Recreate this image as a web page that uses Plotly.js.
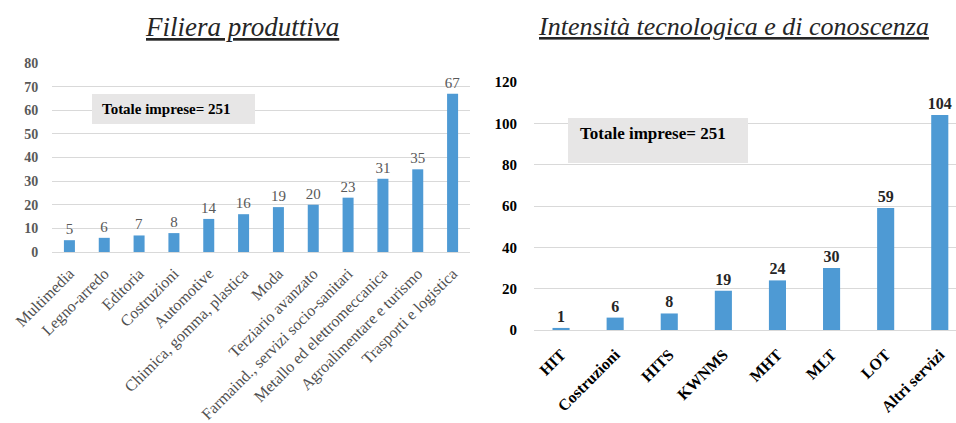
<!DOCTYPE html>
<html>
<head>
<meta charset="utf-8">
<script src="https://cdn.plot.ly/plotly-3.0.1.min.js"></script>
<style>html,body{margin:0;padding:0;background:#fff;}#chart{width:956px;height:423px;}</style>
</head>
<body>
<div id="chart"></div>
<script>
const filieraCategories = ["Multimedia","Legno-arredo","Editoria","Costruzioni","Automotive","Chimica, gomma, plastica","Moda","Terziario avanzato","Farmaind., servizi socio-sanitari","Metallo ed elettromeccanica","Agroalimentare e turismo","Trasporti e logistica"];
const filieraValues = [5,6,7,8,14,16,19,20,23,31,35,67];
const intensitaCategories = ["HIT","Costruzioni","HITS","KWNMS","MHT","MLT","LOT","Altri servizi"];
const intensitaValues = [1,6,8,19,24,30,59,104];
const leftTicks = [0,10,20,30,40,50,60,70,80];
const rightTicks = [0,20,40,60,80,100,120];
const leftTitle = "Filiera produttiva";
const rightTitle = "Intensità tecnologica e di conoscenza";
const totalLabel = "Totale imprese= 251";

const serif = "Liberation Serif";
const barColor = "#4E9AD4";
const gray = "#595959";

const traces = [
  {
    type: "bar", x: filieraCategories, y: filieraValues, xaxis: "x", yaxis: "y",
    marker: {color: barColor},
    text: filieraValues.map(String), textposition: "outside", cliponaxis: false,
    constraintext: "none",
    outsidetextfont: {family: serif, size: 15, color: gray},
    hoverinfo: "x+y"
  },
  {
    type: "bar", x: intensitaCategories, y: intensitaValues, xaxis: "x2", yaxis: "y2",
    marker: {color: barColor},
    text: intensitaValues.map(String), textposition: "outside", cliponaxis: false,
    constraintext: "none",
    outsidetextfont: {family: serif, size: 16, color: "#262626", weight: "bold"},
    hoverinfo: "x+y"
  }
];

const layout = {
  width: 956, height: 423,
  margin: {l: 0, r: 0, t: 0, b: 0},
  paper_bgcolor: "#ffffff", plot_bgcolor: "#ffffff",
  showlegend: false,
  bargap: 0.684,
  font: {family: serif},
  xaxis: {
    domain: [52/956, 470/956], anchor: "y",
    tickangle: -45, automargin: false,
    tickfont: {family: serif, size: 16, color: "#505050"},
    showgrid: false, showline: true, linecolor: "#d9d9d9", linewidth: 1,
    ticks: "outside", ticklen: 5, tickcolor: "rgba(0,0,0,0)",
    fixedrange: true
  },
  yaxis: {
    domain: [1 - 252/423, 1 - 63/423], anchor: "x",
    range: [0, 80], tickvals: leftTicks, automargin: false,
    tickfont: {family: serif, size: 14, color: gray, weight: "bold"},
    showgrid: true, gridcolor: "#d9d9d9", gridwidth: 1, zeroline: false,
    ticks: "outside", ticklen: 10, tickcolor: "rgba(0,0,0,0)",
    fixedrange: true
  },
  xaxis2: {
    domain: [534/956, 1], anchor: "y2",
    range: [-0.5, 7.3], automargin: false,
    tickangle: -45,
    tickfont: {family: serif, size: 16, color: "#000000", weight: "bold"},
    showgrid: false, showline: true, linecolor: "#d9d9d9", linewidth: 1,
    ticks: "outside", ticklen: 8, tickcolor: "rgba(0,0,0,0)",
    fixedrange: true
  },
  yaxis2: {
    domain: [1 - 330/423, 1 - 82/423], anchor: "x2",
    range: [0, 120], tickvals: rightTicks, automargin: false,
    tickfont: {family: serif, size: 15, color: "#000000", weight: "bold"},
    showgrid: true, gridcolor: "#d9d9d9", gridwidth: 1, zeroline: false,
    ticks: "outside", ticklen: 13, tickcolor: "rgba(0,0,0,0)",
    fixedrange: true
  },
  shapes: [
    {type: "rect", xref: "paper", yref: "paper", x0: 92/956, x1: 255/956, y0: 1 - 124/423, y1: 1 - 94/423,
     fillcolor: "#E7E6E6", line: {width: 0}, layer: "above"},
    {type: "rect", xref: "paper", yref: "paper", x0: 568/956, x1: 748/956, y0: 1 - 163/423, y1: 1 - 118/423,
     fillcolor: "#E7E6E6", line: {width: 0}, layer: "above"}
  ],
  annotations: [
    {text: "<i><u>" + leftTitle + "</u></i>", xref: "paper", yref: "paper", x: 242/956, y: 1 - 27/423,
     showarrow: false, xanchor: "center", yanchor: "middle",
     font: {family: serif, size: 27, color: "#262626", style: "italic"}},
    {text: "<i><u>" + rightTitle + "</u></i>", xref: "paper", yref: "paper", x: 733/956, y: 1 - 27/423,
     showarrow: false, xanchor: "center", yanchor: "middle",
     font: {family: serif, size: 26, color: "#262626", style: "italic"}},
    {text: totalLabel, xref: "paper", yref: "paper", x: 100/956, y: 1 - 109/423,
     showarrow: false, xanchor: "left", yanchor: "middle",
     font: {family: serif, size: 15, color: "#000000", weight: "bold"}},
    {text: totalLabel, xref: "paper", yref: "paper", x: 578/956, y: 1 - 133/423,
     showarrow: false, xanchor: "left", yanchor: "middle",
     font: {family: serif, size: 17, color: "#000000", weight: "bold"}}
  ]
};

Plotly.newPlot("chart", traces, layout, {displayModeBar: false, staticPlot: true});
</script>
</body>
</html>
